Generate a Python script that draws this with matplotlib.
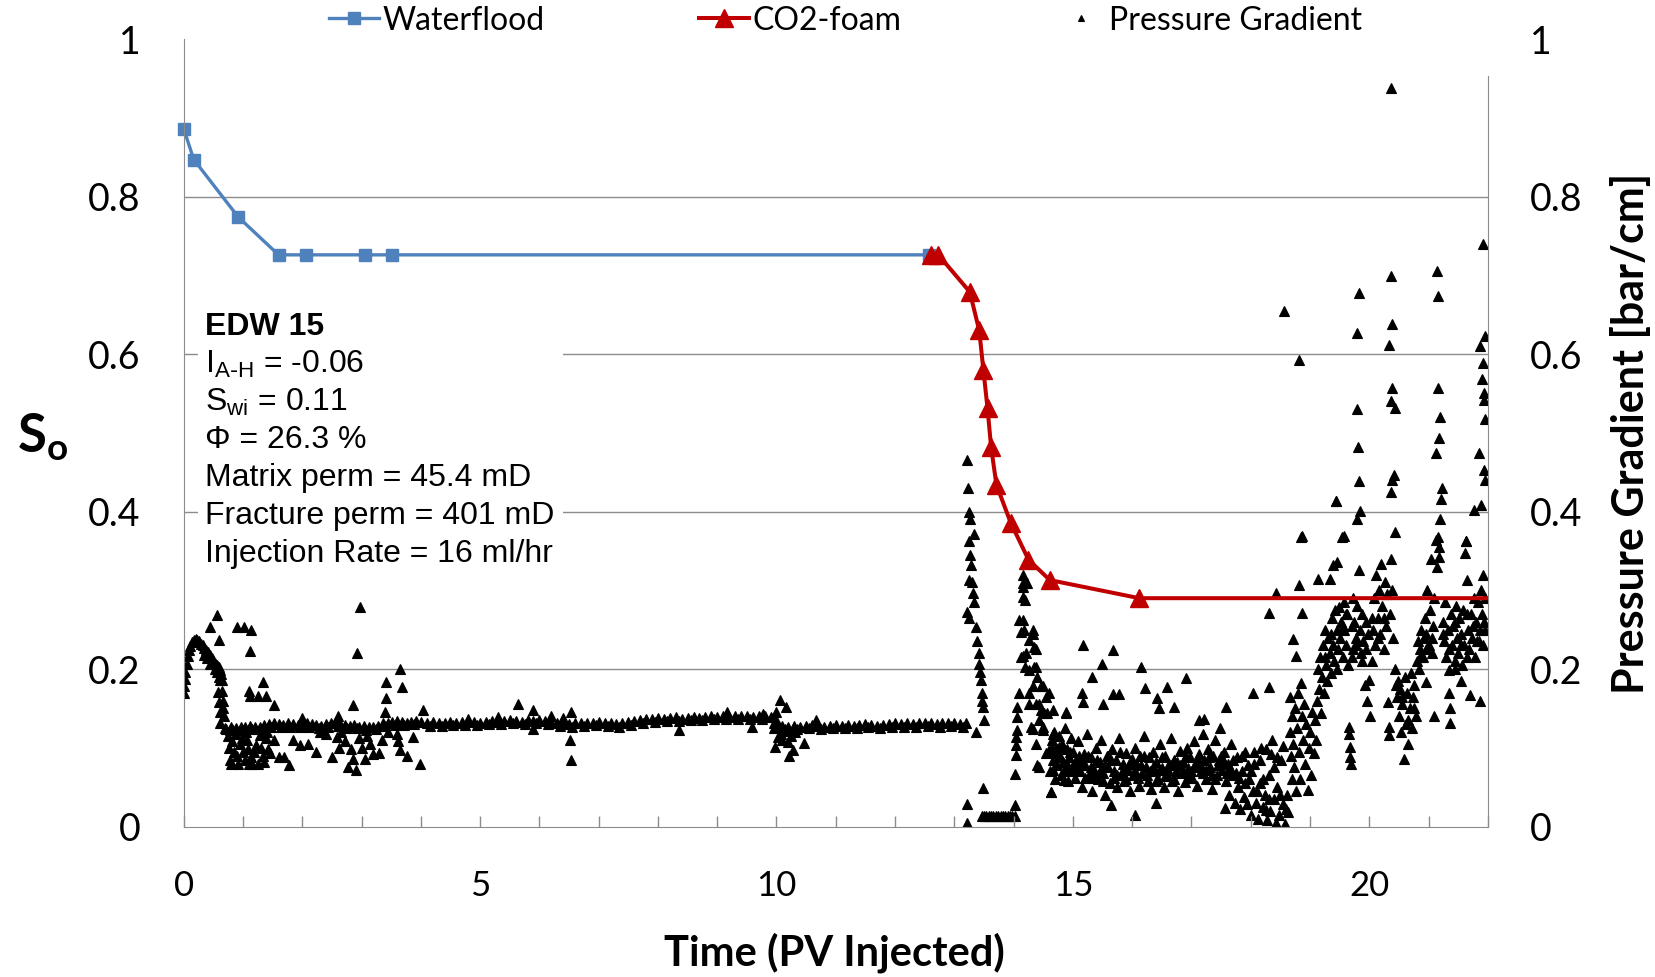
import matplotlib
matplotlib.use("Agg")
import matplotlib.pyplot as plt
from matplotlib.patches import Rectangle
from matplotlib.ticker import MultipleLocator

plt.rcParams['font.family'] = ['Lato', 'DejaVu Sans']

# --- oil saturation (left axis) ---
waterflood_pv = [0.0, 0.17, 0.92, 1.60, 2.07, 3.05, 3.52, 12.58]
waterflood_so = [0.886, 0.847, 0.774, 0.726, 0.726, 0.726, 0.726, 0.726]

co2_pv = [12.60, 12.73, 13.26, 13.42, 13.49, 13.56, 13.62, 13.71, 13.95, 14.25, 14.61, 16.12, 22.40]
co2_so = [0.726, 0.726, 0.679, 0.630, 0.580, 0.531, 0.482, 0.434, 0.386, 0.339, 0.313, 0.290, 0.290]

# --- pressure gradient (right axis), (PV, bar/cm) ---
pg_startup = [(0.00, .169), (0.01, .178), (0.02, .187), (0.03, .196), (0.05, .207), (0.07, .216),
              (0.09, .224), (0.11, .229), (0.14, .234), (0.17, .237), (0.20, .238), (0.23, .237),
              (0.26, .235), (0.29, .232), (0.32, .230), (0.35, .227), (0.38, .224), (0.41, .222),
              (0.44, .218), (0.47, .214), (0.50, .211), (0.53, .208), (0.56, .205), (0.59, .202),
              (0.61, .199), (0.63, .194), (0.64, .186), (0.65, .172), (0.66, .160), (0.67, .150),
              (0.68, .141), (0.35, .218), (0.40, .214), (0.45, .206), (0.52, .200), (0.57, .196),
              (0.60, .190), (0.62, .186), (0.58, .171), (0.60, .158), (0.61, .131), (0.62, .145),
              (0.70, .125), (0.44, .253), (0.57, .269), (0.59, .237)]

pg_early_band = [(0.72, .124), (0.80, .126), (0.88, .125), (0.96, .127), (1.04, .126), (1.12, .128),
                 (1.20, .126), (1.28, .127), (1.36, .129), (1.44, .130), (1.52, .131), (1.60, .130),
                 (1.68, .129), (1.76, .131), (1.84, .130), (1.92, .129), (2.00, .130), (2.08, .131),
                 (2.16, .130), (2.24, .129), (2.32, .128), (2.40, .130), (2.48, .131), (2.56, .132),
                 (2.64, .130), (2.72, .129), (2.80, .128), (2.88, .129), (2.96, .127), (3.04, .128),
                 (3.12, .126), (3.20, .127), (3.28, .128), (3.36, .131), (3.44, .132), (3.52, .133),
                 (3.60, .134), (3.68, .133), (3.76, .132), (3.84, .133), (3.92, .134), (4.00, .133),
                 (0.84, .122), (1.00, .123), (1.16, .124), (1.32, .124), (1.48, .126), (1.64, .126),
                 (1.80, .127), (1.96, .126), (2.12, .127), (2.28, .125), (2.44, .126), (2.60, .128),
                 (2.76, .125), (2.92, .125), (3.08, .123), (3.24, .124), (3.40, .128), (3.56, .129),
                 (3.72, .129), (3.88, .130)]

pg_early_scatter = [(0.74, .115), (0.76, .100), (0.78, .085), (0.80, .080), (0.82, .108), (0.85, .095),
                    (0.88, .118), (0.90, .090), (0.92, .080), (0.95, .105), (0.98, .112), (1.00, .095),
                    (1.03, .085), (1.06, .110), (1.08, .098), (1.10, .080), (1.13, .088), (1.16, .079),
                    (1.19, .095), (1.22, .104), (1.25, .080), (1.28, .116), (1.30, .100), (1.33, .090),
                    (1.36, .082), (1.38, .112), (1.40, .120), (1.42, .098), (1.46, .094), (1.52, .110),
                    (1.60, .088), (1.70, .088), (1.77, .078), (1.85, .110), (1.96, .104), (2.10, .105),
                    (2.24, .095), (2.40, .118), (2.50, .088), (2.58, .114), (2.66, .120), (2.72, .108),
                    (2.77, .076), (2.82, .098), (2.86, .086), (2.90, .072), (2.95, .112), (3.00, .100),
                    (3.05, .086), (3.10, .115), (3.15, .105), (3.20, .092), (3.30, .094), (3.35, .110),
                    (3.45, .120), (3.59, .118), (3.62, .108), (3.65, .097), (3.76, .089), (3.87, .114),
                    (3.98, .080), (2.30, .120), (2.62, .100), (1.05, .120), (0.78, .122),
                    (0.90, .253), (1.02, .253), (1.13, .250), (1.11, .223), (1.34, .184), (1.11, .166),
                    (1.26, .166), (1.39, .166), (1.52, .154), (2.97, .279), (2.92, .221), (2.86, .154),
                    (3.41, .184), (3.41, .163), (3.65, .200), (3.69, .177), (4.03, .148), (1.10, .172),
                    (2.00, .138), (2.60, .140), (3.40, .145)]

pg_steady = [(4.1, .132), (4.2, .133), (4.3, .132), (4.4, .131), (4.5, .133), (4.6, .132), (4.7, .133),
             (4.8, .134), (4.9, .133), (5.0, .132), (5.1, .133), (5.2, .134), (5.3, .133), (5.4, .134),
             (5.5, .135), (5.6, .134), (5.7, .133), (5.8, .135), (5.9, .134), (6.0, .135), (6.1, .134),
             (6.2, .133), (6.3, .132), (6.4, .131), (6.5, .130), (6.6, .131), (6.7, .132), (6.8, .131),
             (6.9, .132), (7.0, .133), (7.1, .132), (7.2, .131), (7.3, .130), (7.4, .131), (7.5, .133),
             (7.6, .134), (7.7, .135), (7.8, .136), (7.9, .137), (8.0, .138), (8.1, .137), (8.2, .138),
             (8.3, .139), (8.4, .137), (8.5, .138), (8.6, .139), (8.7, .138), (8.8, .139), (8.9, .140),
             (9.0, .139), (9.1, .140), (9.2, .139), (9.3, .140), (9.4, .141), (9.5, .140), (9.6, .139),
             (9.7, .140), (9.8, .141), (9.9, .139), (10.0, .135), (10.1, .128), (10.2, .127), (10.3, .128),
             (10.4, .127), (10.5, .128), (10.6, .129), (10.7, .128), (10.8, .127), (10.9, .128),
             (11.0, .129), (11.1, .128), (11.2, .129), (11.3, .128), (11.4, .129), (11.5, .130),
             (11.6, .129), (11.7, .128), (11.8, .129), (11.9, .130), (12.0, .131), (12.1, .130),
             (12.2, .131), (12.3, .130), (12.4, .131), (12.5, .132), (12.6, .131), (12.7, .130),
             (12.8, .131), (12.9, .132), (13.0, .131), (13.1, .130), (13.2, .131)]

# lower edge of the steady band
pg_steady_low = [(4.15, .128), (4.35, .128), (4.55, .129), (4.75, .129), (4.95, .129), (5.15, .130),
                 (5.35, .130), (5.55, .131), (5.75, .130), (5.95, .131), (6.15, .130), (6.35, .128),
                 (6.55, .127), (6.75, .128), (6.95, .129), (7.15, .128), (7.35, .127), (7.55, .129),
                 (7.75, .131), (7.95, .133), (8.15, .134), (8.35, .134), (8.55, .135), (8.75, .135),
                 (8.95, .136), (9.15, .136), (9.35, .136), (9.55, .136), (9.75, .137), (9.95, .132),
                 (10.15, .124), (10.35, .124), (10.55, .125), (10.75, .124), (10.95, .125), (11.15, .125),
                 (11.35, .125), (11.55, .126), (11.75, .125), (11.95, .126), (12.15, .127), (12.35, .127),
                 (12.55, .128), (12.75, .127), (12.95, .128), (13.15, .127)]

pg_steady_scatter = [(5.64, .155), (5.90, .148), (5.90, .124), (6.52, .110), (6.53, .146), (6.54, .084),
                     (6.20, .140), (6.40, .138), (4.80, .137), (5.30, .139), (8.36, .122), (9.16, .145),
                     (9.59, .127), (9.78, .143), (9.95, .125), (9.98, .101), (10.00, .145), (10.02, .114),
                     (10.05, .127), (10.06, .161), (10.08, .118), (10.10, .110), (10.12, .121),
                     (10.16, .152), (10.19, .107), (10.21, .089), (10.24, .115), (10.28, .097),
                     (10.32, .120), (10.47, .106), (10.67, .135)]

pg_shut_in = [(13.22, .465), (13.33, .372), (13.25, .363), (13.26, .345), (13.28, .332), (13.25, .313),
              (13.31, .297), (13.33, .285), (13.22, .272), (13.25, .265), (13.36, .254), (13.39, .235),
              (13.41, .220), (13.42, .207), (13.45, .186), (13.46, .169), (13.48, .152), (13.50, .135),
              (13.36, .120), (13.49, .049), (13.22, .028), (13.22, .004), (13.23, .430), (13.24, .400),
              (13.27, .390), (13.30, .310), (13.44, .196), (13.47, .160),
              (13.46, .014), (13.50, .014), (13.54, .014), (13.58, .014), (13.62, .014), (13.66, .014),
              (13.70, .014), (13.74, .014), (13.78, .014), (13.82, .014), (13.86, .014), (13.90, .014),
              (13.94, .014), (13.98, .014), (14.02, .014),
              (14.03, .027), (14.03, .067), (14.04, .091), (14.04, .103), (14.04, .114), (14.05, .122),
              (14.05, .139), (14.06, .152), (14.09, .169), (14.12, .215), (14.13, .247), (14.15, .262),
              (14.15, .292), (14.16, .309), (14.15, .319), (14.23, .309)]

pg_foam_decay = [(14.16, .304), (14.19, .288), (14.09, .262), (14.32, .250), (14.26, .237), (14.35, .228),
                 (14.21, .220), (14.15, .216), (14.38, .203), (14.26, .199), (14.40, .190), (14.50, .178),
                 (14.26, .169), (14.54, .165), (14.38, .156), (14.46, .148), (14.57, .144), (14.66, .148),
                 (14.43, .135), (14.32, .124), (14.49, .122), (14.66, .118), (14.38, .105), (14.54, .093),
                 (14.43, .076), (14.18, .250), (14.32, .245), (14.37, .226), (14.20, .203), (14.35, .203),
                 (14.32, .178), (14.46, .178), (14.26, .156), (14.43, .156), (14.51, .144), (14.60, .169),
                 (14.29, .127), (14.49, .127), (14.88, .144), (14.60, .097), (14.77, .101), (14.40, .078),
                 (14.66, .072), (14.85, .059), (14.63, .044)]

pg_foam_low = [(14.60, .095), (14.62, .070), (14.64, .110), (14.66, .085), (14.68, .120), (14.70, .060),
               (14.72, .100), (14.74, .078), (14.76, .115), (14.78, .090), (14.80, .065), (14.82, .105),
               (14.84, .082), (14.86, .125), (14.88, .072), (14.90, .098), (14.92, .058), (14.94, .088),
               (14.96, .112), (14.98, .075), (15.00, .095), (15.03, .062), (15.06, .085), (15.09, .108),
               (15.12, .070), (15.15, .050), (15.18, .092), (15.21, .078), (15.24, .118), (15.27, .065),
               (15.30, .088), (15.33, .045), (15.36, .072), (15.39, .100), (15.42, .060), (15.45, .082),
               (15.48, .110), (15.51, .068), (15.54, .040), (15.57, .090), (15.60, .075), (15.63, .055),
               (15.66, .098), (15.69, .070), (15.72, .085), (15.75, .050), (15.78, .112), (15.81, .066),
               (15.84, .080), (15.87, .058), (15.90, .094), (15.93, .072), (15.96, .045), (15.99, .086),
               (16.02, .065), (16.05, .100), (16.08, .078), (16.11, .052), (16.14, .090), (16.17, .068),
               (16.20, .115), (16.23, .075), (16.26, .058), (16.29, .088), (16.32, .048), (16.35, .095),
               (16.38, .070), (16.41, .082), (16.44, .060), (16.47, .105), (16.50, .074), (16.53, .050),
               (16.56, .090), (16.59, .066), (16.62, .080), (16.65, .112), (16.68, .058), (16.71, .085),
               (16.74, .070), (16.77, .045), (16.80, .096), (16.83, .068), (16.86, .082), (16.89, .056),
               (16.92, .100), (16.95, .074), (16.98, .088), (17.01, .062), (17.04, .108), (17.07, .078),
               (17.10, .052), (17.13, .092), (17.16, .070), (17.19, .118), (17.22, .084), (17.25, .060),
               (17.28, .098), (17.31, .075), (17.34, .048), (17.37, .090), (17.40, .110), (17.43, .066),
               (17.46, .085), (17.49, .125), (17.52, .072), (17.55, .095), (17.58, .058), (17.61, .080),
               (17.64, .040), (17.67, .105), (17.70, .065), (17.73, .030), (17.76, .088), (17.79, .050),
               (17.82, .022), (17.85, .070), (17.88, .038), (17.91, .095), (17.94, .028), (17.97, .060),
               (18.00, .015), (18.03, .045), (18.06, .080), (18.09, .030), (18.12, .010), (18.15, .055),
               (18.18, .100), (18.21, .025), (18.24, .040), (18.27, .008), (18.30, .065), (18.33, .020),
               (18.36, .110), (18.39, .035), (18.42, .005), (18.45, .050), (18.48, .015), (18.51, .085),
               (18.54, .028), (18.57, .003), (18.59, .000), (18.61, .040), (18.63, .018),
               (14.65, .100), (14.75, .092), (14.85, .070), (14.95, .095), (15.05, .075), (15.15, .082),
               (15.25, .090), (15.35, .062), (15.45, .070), (15.55, .078), (15.65, .084), (15.75, .066),
               (15.85, .072), (15.95, .080), (16.05, .070), (16.15, .078), (16.25, .066), (16.35, .076),
               (16.45, .072), (16.55, .064), (16.65, .078), (16.75, .082), (16.85, .070), (16.95, .062),
               (17.05, .076), (17.15, .080), (17.25, .072), (17.35, .066), (17.45, .078), (17.55, .082),
               (17.65, .074), (17.75, .068), (17.85, .090), (17.95, .078), (18.05, .095), (18.15, .085),
               (18.25, .098), (18.35, .092), (18.45, .088), (18.55, .102),
               (14.70, .088), (14.80, .100), (14.90, .080), (15.00, .070), (15.10, .090), (15.20, .062),
               (15.30, .075), (15.40, .085), (15.50, .058), (15.60, .090), (15.70, .062), (15.80, .095),
               (15.90, .060), (16.00, .082), (16.10, .062), (16.20, .090), (16.30, .070), (16.40, .058),
               (16.50, .088), (16.60, .072), (16.70, .060), (16.80, .078), (16.90, .090), (17.00, .070),
               (17.10, .085), (17.20, .068), (17.30, .088), (17.40, .060), (17.50, .090), (17.60, .068),
               (17.70, .085), (17.80, .062), (17.90, .055), (18.00, .070), (18.10, .045), (18.20, .060),
               (18.30, .035), (18.40, .075), (18.50, .040), (18.60, .022),
               (15.17, .231), (15.49, .207), (15.68, .224), (15.33, .190), (16.15, .203), (16.90, .188),
               (16.22, .176), (16.58, .177), (15.16, .169), (15.67, .168), (15.77, .168), (14.88, .145),
               (15.17, .158), (15.51, .156), (16.42, .163), (16.45, .150), (16.71, .152), (17.58, .152),
               (18.03, .169), (18.31, .177), (18.31, .271), (18.43, .296), (17.21, .137), (17.13, .135),
               (14.63, .044), (15.64, .027), (16.05, .015), (16.40, .030), (17.57, .024), (18.25, .021)]

pg_foam_rise = [(18.66, .165), (18.67, .120), (18.68, .090), (18.69, .060), (18.70, .140), (18.71, .238),
                (18.72, .105), (18.73, .075), (18.74, .150), (18.76, .216), (18.77, .045), (18.78, .125),
                (18.80, .170), (18.81, .095), (18.82, .307), (18.83, .060), (18.84, .368), (18.85, .182),
                (18.86, .140), (18.87, .271), (18.88, .110), (18.90, .155), (18.92, .080), (18.94, .130),
                (18.96, .046), (18.98, .100), (19.00, .120), (19.02, .065), (19.04, .145), (19.06, .093),
                (19.08, .135), (19.10, .110), (19.12, .160), (19.13, .200), (19.14, .314), (19.15, .175),
                (19.17, .215), (19.19, .144), (19.20, .190), (19.22, .230), (19.24, .170), (19.26, .250),
                (19.27, .205), (19.29, .185), (19.31, .240), (19.33, .220), (19.34, .314), (19.35, .195),
                (19.37, .265), (19.38, .332), (19.39, .230), (19.41, .210), (19.43, .275), (19.44, .413),
                (19.45, .250), (19.46, .336), (19.47, .225), (19.49, .279), (19.50, .240), (19.52, .260),
                (19.54, .368), (19.55, .215), (19.57, .285), (19.58, .250), (19.60, .230), (19.62, .270),
                (19.64, .205), (19.65, .127), (19.66, .118), (19.67, .101), (19.68, .088), (19.69, .080),
                (19.70, .255), (19.72, .290), (19.73, .225), (19.75, .260), (19.77, .240), (19.79, .280),
                (19.80, .391), (19.81, .482), (19.82, .326), (19.83, .439), (19.84, .250), (19.85, .401),
                (19.86, .220), (19.88, .270), (19.90, .235), (19.92, .180), (19.94, .260), (19.96, .160),
                (19.98, .245), (20.00, .186), (20.02, .140), (20.04, .210), (20.06, .250), (20.08, .290),
                (20.10, .230), (20.12, .320), (20.14, .265), (20.16, .300), (20.18, .245), (20.20, .334),
                (20.22, .280), (20.24, .225), (20.26, .310), (20.28, .255), (20.30, .295), (20.32, .158),
                (20.33, .127), (20.34, .116), (20.35, .270), (20.36, .340), (20.37, .425), (20.38, .300),
                (20.39, .440), (20.40, .240), (20.42, .446), (20.43, .374), (20.44, .200), (20.46, .165),
                (20.48, .185), (20.50, .140), (20.52, .175), (20.54, .120), (20.56, .155), (20.58, .086),
                (20.60, .190), (20.62, .130), (20.64, .170), (20.66, .105), (20.68, .150), (20.70, .195),
                (20.72, .125), (20.74, .165), (20.76, .180), (20.78, .140), (20.80, .210), (20.82, .235),
                (20.84, .200), (20.86, .225), (20.88, .250), (20.90, .215), (20.92, .240), (20.94, .265),
                (20.95, .184), (20.96, .225), (20.98, .300), (21.00, .230), (21.02, .275), (21.04, .340),
                (21.06, .220), (21.08, .255), (21.09, .141), (21.10, .290), (21.12, .364), (21.13, .474),
                (21.15, .330), (21.16, .368), (21.17, .355), (21.18, .342), (21.20, .390), (21.21, .416),
                (21.23, .430), (21.24, .260), (21.26, .235), (21.28, .285), (21.30, .215), (21.32, .250),
                (21.34, .199), (21.35, .170), (21.36, .150), (21.37, .131), (21.38, .270), (21.40, .230),
                (21.42, .255), (21.44, .210), (21.46, .280), (21.48, .240), (21.50, .220), (21.52, .265),
                (21.54, .245), (21.56, .205), (21.58, .275), (21.60, .230), (21.62, .347), (21.63, .362),
                (21.64, .313), (21.66, .250), (21.68, .225), (21.70, .167), (21.72, .270), (21.74, .240),
                (21.76, .402), (21.77, .290), (21.78, .215), (21.80, .260), (21.82, .235), (21.84, .285),
                (21.85, .474), (21.86, .159), (21.87, .250), (21.88, .300), (21.89, .408), (21.90, .270),
                (21.91, .230), (21.92, .320), (21.93, .260), (21.94, .453), (21.95, .290), (21.96, .440),
                (19.25, .215), (19.35, .245), (19.45, .200), (19.55, .255), (19.60, .270), (19.70, .215),
                (19.78, .230), (19.88, .210), (19.95, .225), (20.05, .265), (20.15, .240), (20.25, .265),
                (20.45, .180), (20.55, .165), (20.65, .135), (20.75, .150), (20.85, .215), (20.95, .245),
                (21.05, .240), (21.25, .245), (21.35, .225), (21.45, .260), (21.55, .230), (21.65, .270),
                (21.75, .255), (21.85, .235), (21.95, .250), (21.45, .200), (21.55, .185), (21.65, .215)]

pg_foam_high = [(20.37, .938), (21.92, .740), (20.36, .699), (21.15, .706), (21.16, .674), (19.82, .678),
                (18.56, .655), (18.82, .592), (19.79, .627), (20.38, .638), (20.34, .612), (21.87, .610),
                (21.95, .623), (21.92, .589), (21.90, .568), (20.38, .557), (20.37, .541), (20.43, .531),
                (21.16, .557), (21.93, .550), (21.93, .542), (21.95, .517), (19.80, .530), (21.20, .520),
                (21.18, .494), (19.44, .413), (19.57, .369), (18.86, .369), (21.63, .363)]

pg_points = (pg_startup + pg_early_band + pg_early_scatter + pg_steady + pg_steady_low
             + pg_steady_scatter + pg_shut_in + pg_foam_decay + pg_foam_low + pg_foam_rise
             + pg_foam_high)
pg_pv = [p[0] for p in pg_points]
pg_grad = [p[1] for p in pg_points]

# axis ticks / labels
y_ticks = [0, 0.2, 0.4, 0.6, 0.8, 1.0]
y_ticklabels = ['0', '0.2', '0.4', '0.6', '0.8', '1']
x_ticks = [0, 5, 10, 15, 20]
x_ticklabels = ['0', '5', '10', '15', '20']

info_lines = ['EDW 15',
              r'I$_{\mathregular{A\text{-}H}}$ = -0.06',
              r'S$_{\mathregular{wi}}$ = 0.11',
              'Φ = 26.3 %',
              'Matrix perm = 45.4 mD',
              'Fracture perm = 401 mD',
              'Injection Rate = 16 ml/hr']

GRID = '#8c8c8c'
BLUE = '#4f81bd'
RED = '#c00000'

fig = plt.figure(figsize=(16.55, 9.77), dpi=100)
ax = fig.add_axes([0.111, 0.154, 0.788, 0.806])
ax2 = ax.twinx()
ax.set_zorder(ax2.get_zorder() + 1)
ax.patch.set_visible(False)

# pressure gradient scatter on the secondary axis
for lvl in y_ticks[1:-1]:
    ax2.axhline(lvl, color=GRID, lw=1.0, zorder=0)
pg_line, = ax2.plot(pg_pv, pg_grad, ls='none', marker='^', ms=7, mew=0.8, color='black',
                    label='Pressure Gradient')
ax2.set_ylim(0, 1)
ax2.set_yticks(y_ticks)
ax2.set_yticklabels(y_ticklabels)
ax2.tick_params(axis='y', length=0, pad=30, labelsize=27)

# saturation curves
wf_line, = ax.plot(waterflood_pv, waterflood_so, color=BLUE, lw=2.4, marker='s', ms=8,
                   label='Waterflood', clip_on=False)
co2_line, = ax.plot(co2_pv, co2_so, color=RED, lw=2.9, marker='^', ms=13.5, label='CO2-foam')
ax.set_xlim(0, 22)
ax.set_ylim(0, 1)
ax.set_yticks(y_ticks)
ax.set_yticklabels(y_ticklabels)
ax.tick_params(axis='y', length=0, pad=31, labelsize=27)
ax.set_xticks(x_ticks)
ax.set_xticklabels(x_ticklabels)
ax.xaxis.set_minor_locator(MultipleLocator(1))
ax.tick_params(axis='x', which='both', direction='in', length=8, width=1, color=GRID)
ax.tick_params(axis='x', labelsize=25, pad=31)

for sp in ['top', 'right']:
    ax.spines[sp].set_visible(False)
for sp in ['top', 'left', 'bottom']:
    ax2.spines[sp].set_visible(False)
ax.spines['left'].set_color(GRID)
ax.spines['bottom'].set_color(GRID)
ax2.spines['right'].set_color(GRID)
ax2.spines['right'].set_bounds(0, 0.953)

# sample info box (white background hides the grid)
ax.add_patch(Rectangle((0.011, 0.33), 0.28, 0.34, transform=ax.transAxes,
                       facecolor='white', edgecolor='none', zorder=1))
for i, line in enumerate(info_lines):
    ax.text(0.0163, (826.5 - (335 + 37.8 * i)) / 787.5, line, transform=ax.transAxes,
            family=['Liberation Sans', 'DejaVu Sans'], fontsize=23, va='baseline', ha='left',
            fontweight='bold' if i == 0 else 'normal', zorder=3)

fig.text(0.504, 0.025, 'Time (PV Injected)', ha='center', va='center', fontsize=30,
         fontweight='bold')
fig.text(0.026, 0.552, r'$\mathregular{S_o}$', ha='center', va='center', fontsize=38,
         fontweight='bold')
fig.text(0.985, 0.556, 'Pressure Gradient [bar/cm]', ha='center', va='center', fontsize=31,
         fontweight='bold', rotation=90)

leg = fig.legend([wf_line, co2_line, pg_line], ['Waterflood', 'CO2-foam', 'Pressure Gradient'],
                 loc='center', bbox_to_anchor=(0.511, 0.979), ncol=3, frameon=False, fontsize=23,
                 handlelength=1.56, handletextpad=0.1, columnspacing=4.85, numpoints=1)
leg.legend_handles[2].set_markersize(5)

fig.savefig('out.png', dpi=100, facecolor='white')
